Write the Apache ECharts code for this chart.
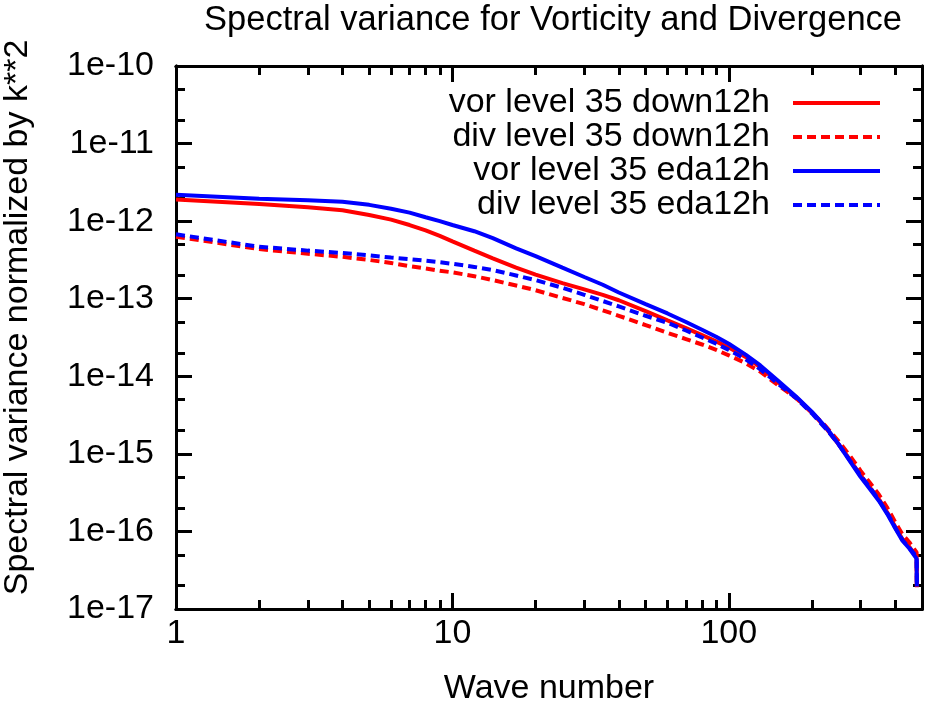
<!DOCTYPE html>
<html>
<head>
<meta charset="utf-8">
<script src="https://cdn.jsdelivr.net/npm/echarts@6/dist/echarts.min.js"></script>
<style>
  html, body { margin: 0; padding: 0; background: #fff; }
  #main { width: 925px; height: 708px; }
</style>
</head>
<body>
<div id="main"></div>
<script type="text/javascript">
// wave numbers and log10 of the spectral variance
var waveNumbers = [1, 2, 3, 4, 5, 6, 7, 8, 9, 10, 12, 14, 17, 20, 25, 30, 35, 40, 50, 60, 70, 80, 90, 100, 115, 130, 150, 175, 200, 225, 250, 275, 300, 325, 350, 375, 400, 425, 450, 478, 479];
var vorDownLog = [-11.72, -11.78, -11.82, -11.86, -11.92, -11.98, -12.05, -12.12, -12.19, -12.26, -12.38, -12.48, -12.60, -12.69, -12.80, -12.88, -12.95, -13.02, -13.16, -13.28, -13.38, -13.47, -13.55, -13.63, -13.75, -13.88, -14.07, -14.27, -14.47, -14.67, -14.88, -15.08, -15.28, -15.44, -15.59, -15.76, -15.94, -16.10, -16.20, -16.33, -16.72];
var divDownLog = [-12.20, -12.36, -12.42, -12.46, -12.50, -12.54, -12.58, -12.61, -12.64, -12.66, -12.71, -12.76, -12.83, -12.89, -12.99, -13.07, -13.15, -13.22, -13.34, -13.44, -13.52, -13.59, -13.66, -13.73, -13.83, -13.94, -14.11, -14.28, -14.47, -14.65, -14.84, -15.03, -15.22, -15.38, -15.53, -15.70, -15.88, -16.04, -16.14, -16.27, -16.75];
var vorEdaLog = [-11.66, -11.71, -11.73, -11.75, -11.79, -11.84, -11.89, -11.95, -12.00, -12.05, -12.13, -12.22, -12.35, -12.45, -12.60, -12.72, -12.82, -12.92, -13.07, -13.19, -13.30, -13.40, -13.49, -13.58, -13.72, -13.86, -14.05, -14.26, -14.46, -14.66, -14.88, -15.10, -15.30, -15.46, -15.61, -15.78, -15.96, -16.12, -16.22, -16.35, -16.71];
var divEdaLog = [-12.17, -12.33, -12.38, -12.41, -12.44, -12.47, -12.49, -12.51, -12.53, -12.55, -12.59, -12.63, -12.70, -12.76, -12.86, -12.95, -13.03, -13.10, -13.22, -13.31, -13.41, -13.50, -13.58, -13.66, -13.78, -13.91, -14.09, -14.28, -14.48, -14.68, -14.88, -15.09, -15.28, -15.44, -15.60, -15.77, -15.95, -16.11, -16.21, -16.33, -16.70];

var seriesNames = ['vor level 35 down12h', 'div level 35 down12h', 'vor level 35 eda12h', 'div level 35 eda12h'];

var xMajorTicks = [1, 10, 100];
var xMinorTicks = [2, 3, 4, 5, 6, 7, 8, 9, 20, 30, 40, 50, 60, 70, 80, 90, 200, 300, 400];
var yMajorTicks = [1e-17, 1e-16, 1e-15, 1e-14, 1e-13, 1e-12, 1e-11, 1e-10];
var yMinorTicks = [2e-17, 5e-17, 2e-16, 5e-16, 2e-15, 5e-15, 2e-14, 5e-14, 2e-13, 5e-13, 2e-12, 5e-12, 2e-11, 5e-11];

function pairs(logs) {
    return waveNumbers.map(function (k, i) { return [k, Math.pow(10, logs[i])]; });
}

var FONT = 'Liberation Sans, Arial, sans-serif';
var lineW = 3;

function xAxisDef(pos, ticks, len, labels) {
    return {
        type: 'log', logBase: 10, min: 1, max: 500, position: pos,
        axisLine: { show: true, onZero: false, lineStyle: { color: '#000', width: lineW } },
        axisTick: { show: true, inside: true, length: len, customValues: ticks, lineStyle: { color: '#000', width: lineW } },
        axisLabel: labels ? { show: true, customValues: xMajorTicks, color: '#000', fontSize: 34, fontFamily: FONT, margin: 8 } : { show: false },
        splitLine: { show: false }, minorTick: { show: false }, minorSplitLine: { show: false },
        name: labels ? 'Wave number' : '', nameLocation: 'middle', nameGap: 63,
        nameTextStyle: { color: '#000', fontSize: 34, fontFamily: FONT }
    };
}
function yAxisDef(pos, ticks, len, labels) {
    return {
        type: 'log', logBase: 10, min: 1e-17, max: 1e-10, position: pos,
        axisLine: { show: true, onZero: false, lineStyle: { color: '#000', width: lineW } },
        axisTick: { show: true, inside: true, length: len, customValues: ticks, lineStyle: { color: '#000', width: lineW } },
        axisLabel: labels ? {
            show: true, customValues: yMajorTicks, color: '#000', fontSize: 34, fontFamily: FONT, margin: 22,
            formatter: function (v) { return '1e' + Math.round(Math.log10(v)); }
        } : { show: false },
        splitLine: { show: false }, minorTick: { show: false }, minorSplitLine: { show: false },
        name: labels ? 'Spectral variance normalized by k**2' : '', nameLocation: 'middle', nameRotate: 90, nameGap: 141,
        nameTextStyle: { color: '#000', fontSize: 34, fontFamily: FONT, padding: [0, 0, 0, 40] }
    };
}

var colors = ['#ff0000', '#ff0000', '#0000ff', '#0000ff'];
var dashed = [false, true, false, true];
var logsList = [vorDownLog, divDownLog, vorEdaLog, divEdaLog];

var myChart = echarts.init(document.getElementById('main'));
var option = {
    animation: false,
    backgroundColor: '#fff',
    title: {
        text: 'Spectral variance for Vorticity and Divergence',
        left: 199, top: -2,
        textStyle: { color: '#000', fontSize: 34.5, fontWeight: 'normal', fontFamily: FONT }
    },
    grid: { left: 176, right: 3, top: 66, bottom: 99, containLabel: false, outerBoundsMode: 'none' },
    legend: {
        orient: 'vertical', align: 'right', right: 38, top: 81,
        itemWidth: 87, itemHeight: 14, itemGap: 0,
        data: seriesNames,
        itemStyle: { opacity: 0 },
        lineStyle: { width: 4 },
        textStyle: { color: '#000', fontSize: 34, lineHeight: 34, fontFamily: FONT, padding: [0, 18, 0, 0] }
    },
    xAxis: [
        xAxisDef('bottom', xMajorTicks, 16, true),
        xAxisDef('bottom', xMinorTicks, 9, false),
        xAxisDef('top', xMajorTicks, 16, false),
        xAxisDef('top', xMinorTicks, 9, false)
    ],
    yAxis: [
        yAxisDef('left', yMajorTicks, 16, true),
        yAxisDef('left', yMinorTicks, 9, false),
        yAxisDef('right', yMajorTicks, 16, false),
        yAxisDef('right', yMinorTicks, 9, false)
    ],
    series: seriesNames.map(function (name, i) {
        return {
            name: name, type: 'line', xAxisIndex: 0, yAxisIndex: 0,
            data: pairs(logsList[i]),
            showSymbol: false, symbol: 'none',
            color: colors[i],
            lineStyle: { color: colors[i], width: 4, type: dashed[i] ? [9, 5] : 'solid' }
        };
    })
};
myChart.setOption(option);
</script>
</body>
</html>
